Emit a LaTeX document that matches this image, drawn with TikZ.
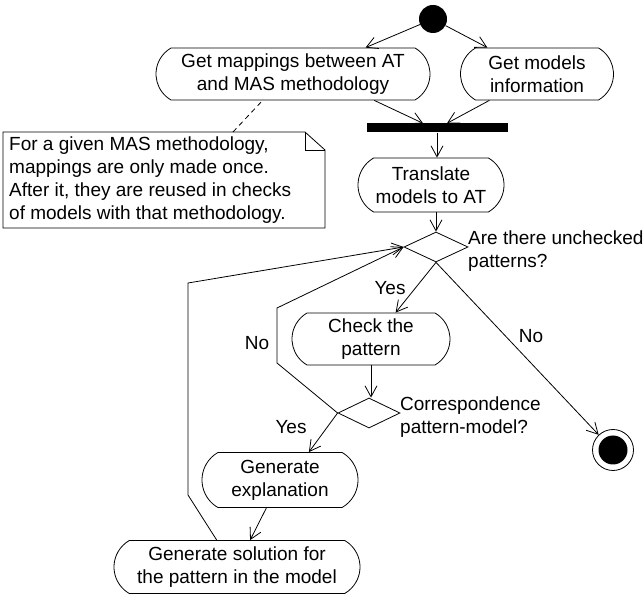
\documentclass[tikz,border=0pt]{standalone}
\usepackage{fontspec}
\setmainfont{Liberation Sans}
\usetikzlibrary{shapes.misc,shapes.geometric,arrows.meta}
\begin{document}
\begin{tikzpicture}[x=1pt,y=-1pt,font=\fontsize{19}{23}\selectfont]
  % Estilos
  \tikzset{
    actividad/.style={draw, line width=0.8pt, rounded rectangle, rounded rectangle arc length=120,
      align=center, inner sep=2pt, minimum height=52pt},
    decision/.style={draw, line width=0.8pt, diamond, minimum width=64pt, minimum height=30pt, inner sep=0pt},
    flecha/.style={-{Straight Barb[length=11pt,width=12pt]}, line width=0.8pt},
    linea/.style={line width=0.8pt},
    etiqueta/.style={inner sep=1pt}
  }
  \useasboundingbox (0,0) rectangle (643,601);

  % Inicio, barra y final
  \node[circle, fill=black, minimum size=28pt, inner sep=0pt] (inicio) at (433,19) {};
  \node[rectangle, fill=black, minimum width=141pt, minimum height=9pt, inner sep=0pt] (barra) at (437,128) {};
  \node[circle, draw, line width=0.8pt, minimum size=41pt, inner sep=0pt] (fin) at (613,450) {};
  \node[circle, fill=black, minimum size=29pt, inner sep=0pt] (fin_dentro) at (fin) {};

  % Actividades
  \node[actividad, minimum width=278pt] (mapeos) at (293,74) {Get mappings between AT\\and MAS methodology};
  \node[actividad, minimum width=157pt] (modelos) at (537,74) {Get models\\information};
  \node[actividad, minimum width=150pt, minimum height=54pt] (traducir) at (431,185) {Translate\\models to AT};
  \node[actividad, minimum width=162pt] (comprobar) at (371,339) {Check the\\pattern};
  \node[actividad, minimum width=160pt, minimum height=55pt] (explicacion) at (280,480) {Generate\\explanation};
  \node[actividad, minimum width=250pt, minimum height=53pt] (solucion) at (237,567) {Generate solution for\\the pattern in the model};

  % Decisiones
  \node[decision] (d_patrones) at (436,247) {};
  \node[decision, minimum width=62pt] (d_corresp) at (369,413) {};
  \node[etiqueta, anchor=west, align=left] (txt_patrones) at (467,251) {Are there unchecked\\patterns?};
  \node[etiqueta, anchor=west, align=left] (txt_corresp) at (399,417) {Correspondence\\pattern-model?};

  % Nota
  \node[anchor=north west, align=left, inner sep=0pt] (nota) at (9,137) {For a given MAS methodology,\\mappings are only made once.\\After it, they are reused in checks\\of models with that methodology.};
  \draw[linea] (3,132) -- (305,132) -- (325,150) -- (325,228) -- (3,228) -- cycle;
  \draw[linea] (305,132) -- (305,150) -- (325,150);
  \coordinate (nota_esq) at (233,132);
  \draw[linea, dash pattern=on 5pt off 4pt] (nota_esq) -- (mapeos.-139);

  % Flujo
  \draw[flecha] (inicio) -- (mapeos.20);
  \draw[flecha] (inicio) -- (modelos.152);
  \draw[flecha] (mapeos.-18) -- ([xshift=-14pt]barra.north);
  \draw[flecha] (modelos.-151) -- ([xshift=10pt]barra.north);
  \draw[flecha] (barra.south) -- (barra.south |- traducir.north);
  \draw[flecha] (d_patrones.north |- traducir.south) -- (d_patrones.north);
  \draw[flecha] (d_patrones.south) -- (comprobar.47);
  \node[etiqueta] (si1) at (390,288) {Yes};
  \draw[flecha] (d_patrones.south) -- (fin);
  \node[etiqueta] (no1) at (531,336) {No};
  \draw[flecha] (comprobar.south) -- (comprobar.south |- d_corresp.north);
  \draw[flecha] (d_corresp.west) -- (explicacion.44);
  \node[etiqueta] (si2) at (291,427) {Yes};
  \draw[flecha] (explicacion.-116) -- (solucion.64);

  % Bucles de vuelta
  \coordinate (no_a) at (277,363);
  \coordinate (no_b) at (277,308);
  \draw[flecha] (d_corresp.west) -- (no_a) -- (no_b) -- (d_patrones.west);
  \node[etiqueta] (no2) at (257,343) {No};
  \coordinate (sol_a) at (188,495);
  \coordinate (sol_b) at (188,283);
  \draw[flecha] (solucion.127) -- (sol_a) -- (sol_b) -- (d_patrones.west);
\end{tikzpicture}
\end{document}
